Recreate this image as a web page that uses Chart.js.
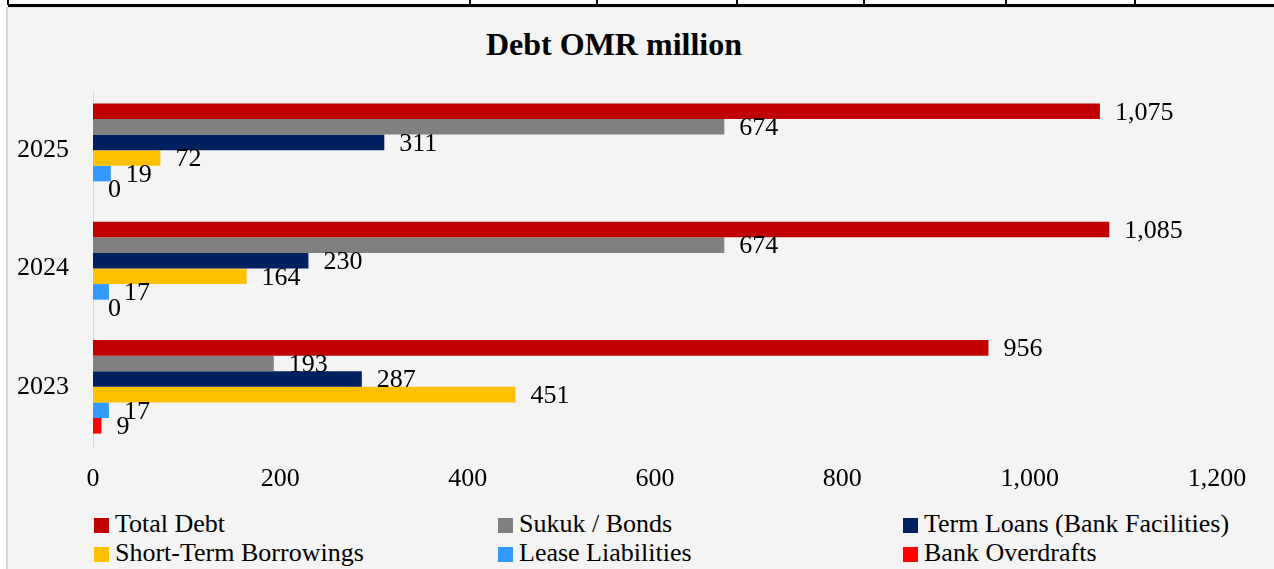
<!DOCTYPE html>
<html>
<head>
<meta charset="utf-8">
<script src="https://cdn.jsdelivr.net/npm/chart.js@4"></script>
<style>
  body { margin: 0; width: 1274px; height: 569px; overflow: hidden; background: #fff; font-family: "Liberation Serif", "Times New Roman", serif; }
  .rule { position: absolute; background: #000; }
  #panel { position: absolute; left: 6px; top: 7px; width: 1280px; height: 570px; background: #f4f4f4; border-left: 2px solid #d9d9d9; border-top: 1px solid #e4e4e4; }
  #title { position: absolute; left: 414px; width: 400px; top: 28px; text-align: center; font-weight: bold; font-size: 32px; line-height: 32px; }
  #chart { position: absolute; left: 8px; top: 8px; }
  .lg-box { position: absolute; width: 15px; height: 15px; }
  .lg-text { position: absolute; font-size: 26px; line-height: 26px; white-space: nowrap; color: #000; }
</style>
</head>
<body>
<div id="panel"></div>
<div id="top-rules"></div>
<div id="title">Debt OMR million</div>
<canvas id="chart" width="1266" height="490"></canvas>
<div id="legend"></div>
<script>
// chart data
const years = ["2025", "2024", "2023"];
const totalDebt = [1075, 1085, 956];
const sukukBonds = [674, 674, 193];
const termLoans = [311, 230, 287];
const shortTerm = [72, 164, 451];
const leaseLiabilities = [19, 17, 17];
const bankOverdrafts = [0, 0, 9];
const xTicks = [0, 200, 400, 600, 800, 1000, 1200];

const seriesNames = ["Total Debt", "Sukuk / Bonds", "Term Loans (Bank Facilities)", "Short-Term Borrowings", "Lease Liabilities", "Bank Overdrafts"];
const seriesColors = ["#c00000", "#808080", "#002060", "#ffc000", "#3399ff", "#ff0000"];
const seriesValues = [totalDebt, sukukBonds, termLoans, shortTerm, leaseLiabilities, bankOverdrafts];

// leftover table border above the chart
const rules = document.getElementById("top-rules");
rules.innerHTML = `<div class="rule" style="left:8px;top:4px;width:1266px;height:3px"></div>` +
  [8, 470, 597, 737, 864, 1006, 1135].map((x) => `<div class="rule" style="left:${x - 1}px;top:0;width:2px;height:5px"></div>`).join("");

const serif = '"Liberation Serif", "Times New Roman", serif';
Chart.defaults.font.family = serif;
Chart.defaults.font.size = 26;
Chart.defaults.color = "#000";

// value labels at the end of each bar
const valueLabels = {
  id: "valueLabels",
  afterDatasetsDraw(chart) {
    const ctx = chart.ctx;
    ctx.save();
    ctx.font = "26px " + serif;
    ctx.fillStyle = "#000";
    ctx.textBaseline = "middle";
    ctx.textAlign = "left";
    chart.data.datasets.forEach((ds, i) => {
      chart.getDatasetMeta(i).data.forEach((bar, j) => {
        ctx.fillText(ds.data[j].toLocaleString("en-US"), bar.x + 15, bar.y + 1.5);
      });
    });
    ctx.restore();
  },
};

new Chart(document.getElementById("chart"), {
  type: "bar",
  data: {
    labels: years,
    datasets: seriesNames.map((name, i) => ({
      label: name,
      data: seriesValues[i],
      backgroundColor: seriesColors[i],
      borderWidth: 0,
      categoryPercentage: 0.79,
      barPercentage: 1.0,
    })),
  },
  options: {
    indexAxis: "y",
    responsive: false,
    animation: false,
    devicePixelRatio: 1,
    layout: { padding: { top: 83, right: 57, left: 0, bottom: 0 } },
    plugins: {
      legend: { display: false },
      title: { display: false },
      tooltip: { enabled: false },
    },
    scales: {
      x: {
        min: 0,
        max: 1200,
        afterBuildTicks: (scale) => { scale.ticks = xTicks.map((v) => ({ value: v })); },
        ticks: { padding: 18, callback: (v) => v.toLocaleString("en-US") },
        grid: { display: false, drawTicks: false },
        border: { display: false },
        afterFit: (scale) => { scale.height = 52; },
      },
      y: {
        ticks: { padding: 24 },
        grid: { display: false, drawTicks: false },
        border: { display: true, color: "#d9d9d9", width: 1 },
        afterFit: (scale) => { scale.width = 85; },
      },
    },
  },
  plugins: [valueLabels],
});

// legend in three columns
const legend = document.getElementById("legend");
const colX = [94, 498, 903];
const rowY = [518, 547];
legend.innerHTML = seriesNames.map((name, i) => {
  const x = colX[i % 3];
  const y = rowY[Math.floor(i / 3)];
  return `<div class="lg-box" style="left:${x}px;top:${y}px;background:${seriesColors[i]}"></div>` +
    `<div class="lg-text" style="left:${x + 21}px;top:${y - 7}px">${name}</div>`;
}).join("");
</script>
</body>
</html>
